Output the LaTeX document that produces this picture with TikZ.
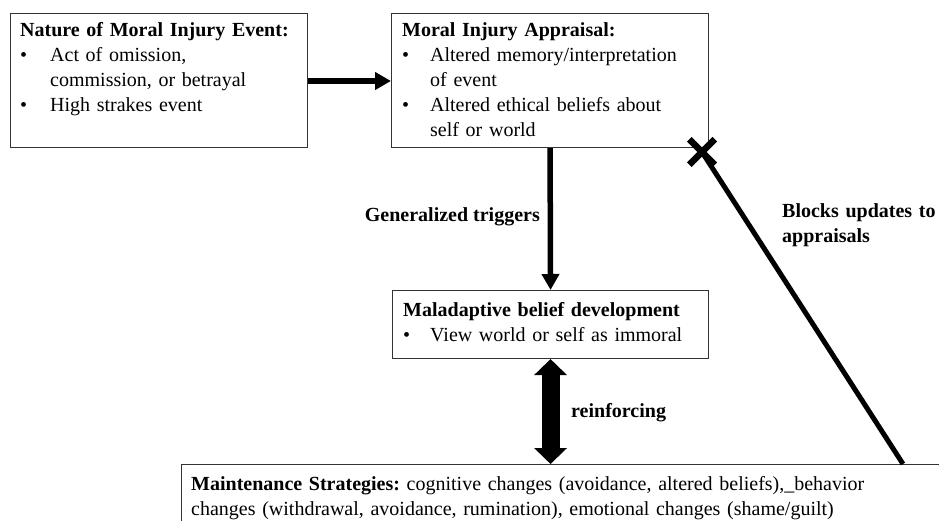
\documentclass[tikz,border=0pt]{standalone}
\usepackage{fontspec}
\setmainfont{Liberation Serif}
\usetikzlibrary{arrows.meta,shapes.misc,calc}
\setlength{\parindent}{0pt}
\frenchspacing
\newcommand{\bul}[1][30pt]{\makebox[#1][l]{\textbullet}}
\newcommand{\cont}[1][30pt]{\hspace*{#1}}
\begin{document}
\begin{tikzpicture}[x=1pt,y=-1pt,
  boxshape/.style={draw=black!80, line width=1.1pt, inner sep=0pt, anchor=north west},
  txt/.style={anchor=base west, inner sep=0pt, align=left, text width=#1, font=\fontsize{20}{25}\selectfont\frenchspacing},
  lbl/.style={inner sep=0pt, align=left, font=\fontsize{20}{25}\selectfont\bfseries},
  thickarrow/.style={line width=5.5pt, -{Triangle[length=16pt,width=17pt]}},
  dblarrow/.style={line width=18pt, {Triangle[length=16pt,width=32pt]}-{Triangle[length=16pt,width=32pt]}},
  blockline/.style={line width=5pt},
  xmark/.style={cross out, draw=black, line width=6.5pt, minimum size=19pt, inner sep=0pt}
]
\useasboundingbox (0,0) rectangle (939,521);
\fill[white] (0,0) rectangle (939,521);

% boxes
\node[boxshape, minimum width=297, minimum height=134] (b1) at (10,13) {};
\node[boxshape, minimum width=317, minimum height=134] (b2) at (391,13) {};
\node[boxshape, minimum width=316, minimum height=68] (b3) at (392,290) {};
\begin{scope}
\clip (0,0) rectangle (939,521);
\node[boxshape, minimum width=800, minimum height=100] (b4) at (181,464) {};
\end{scope}

% box texts
\node[txt=285pt] (t1) at (20,37) {{\bfseries Nature of Moral Injury Event:}\\
\bul Act of omission,\\
\cont commission, or betrayal\\
\bul High strakes event};

\node[txt=300pt] (t2) at (402,37) {{\bfseries Moral Injury Appraisal:}\\
\bul[28pt]Altered memory/interpretation\\
\cont[28pt]of event\\
\bul[28pt]Altered ethical beliefs about\\
\cont[28pt]self or world};

\node[txt=300pt] (t3) at (403,316) {{\bfseries Maladaptive belief development}\\
\bul[27pt]View world or self as immoral};

\node[txt=740pt] (t4) at (191,490) {{\bfseries Maintenance Strategies:} cognitive changes (avoidance, altered beliefs),\_behavior\\
changes (withdrawal, avoidance, rumination), emotional changes (shame/guilt)};

% connectors
\draw[thickarrow] (b1.east |- 0,81) -- (b2.west |- 0,81);
\draw[thickarrow] (b2.south) -- (b3.north);
\coordinate (b4top) at (b3.south |- b4.north);
\draw[dblarrow] (b3.south) -- (b4top);

\node[xmark] (xm) at (702,152) {};
\coordinate (blockend) at (903,464);
\draw[blockline] (xm.center) -- (blockend);

% labels
\node[lbl, anchor=base east] (lgen) at (540,222) {Generalized triggers};
\node[lbl, anchor=base west] (lrein) at (571,417) {reinforcing};
\node[lbl, anchor=base west, text width=160pt] (lblock) at (782,218) {Blocks updates to\\appraisals};
\end{tikzpicture}
\end{document}
